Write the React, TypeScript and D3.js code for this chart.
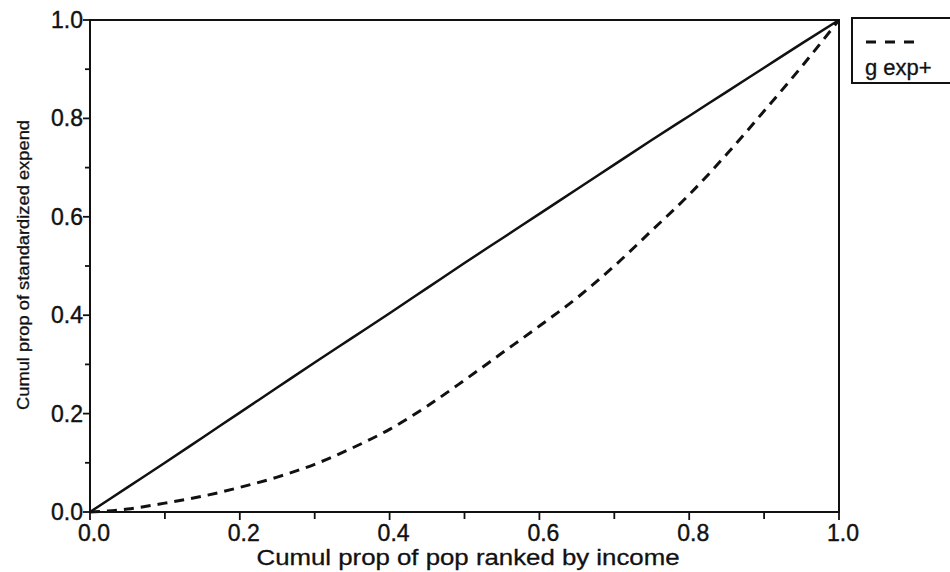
import React, { useEffect, useRef } from "react";
import * as d3 from "d3";

// population share (x) and cumulative share of expenditure (y)
const popShare = [0, 0.05, 0.1, 0.15, 0.2, 0.25, 0.3, 0.35, 0.4, 0.45, 0.5, 0.55, 0.6, 0.65, 0.7, 0.75, 0.8, 0.85, 0.9, 0.95, 1];
const standardizedExp = [0, 0.05, 0.1, 0.151, 0.202, 0.253, 0.304, 0.354, 0.404, 0.455, 0.506, 0.556, 0.606, 0.656, 0.706, 0.756, 0.805, 0.854, 0.903, 0.952, 1];
const actualExp = [0, 0.006, 0.018, 0.032, 0.05, 0.071, 0.097, 0.13, 0.168, 0.215, 0.268, 0.323, 0.378, 0.435, 0.5, 0.572, 0.645, 0.727, 0.815, 0.905, 1];

const majorTicks = [0, 0.2, 0.4, 0.6, 0.8, 1.0];
const minorTicks = [0.1, 0.3, 0.5, 0.7, 0.9];
const legendLabel = "g exp+";
const xTitle = "Cumul prop of pop ranked by income";
const yTitle = "Cumul prop of standardized expend";

const W = 950;
const H = 572;
const FONT = "'Liberation Sans', Arial, Helvetica, sans-serif";

const App = () => {
  const ref = useRef<SVGSVGElement>(null);

  useEffect(() => {
    const svg = d3.select(ref.current);
    svg.selectAll("*").remove();

    const x = d3.scaleLinear().domain([0, 1]).range([90, 839]);
    const y = d3.scaleLinear().domain([0, 1]).range([512, 20]);

    // frame
    svg
      .append("rect")
      .attr("x", x(0))
      .attr("y", y(1))
      .attr("width", x(1) - x(0))
      .attr("height", y(0) - y(1))
      .attr("fill", "none")
      .attr("stroke", "#111")
      .attr("stroke-width", 2);

    // ticks, outward
    const g = svg.append("g").attr("stroke", "#111").attr("stroke-width", 1.8);
    g.selectAll(".xmaj")
      .data(majorTicks)
      .join("line")
      .attr("x1", (d) => x(d))
      .attr("x2", (d) => x(d))
      .attr("y1", y(0))
      .attr("y2", y(0) + 8);
    g.selectAll(".xmin")
      .data(minorTicks)
      .join("line")
      .attr("x1", (d) => x(d))
      .attr("x2", (d) => x(d))
      .attr("y1", y(0))
      .attr("y2", y(0) + 7);
    g.selectAll(".ymaj")
      .data(majorTicks)
      .join("line")
      .attr("x1", x(0) - 7)
      .attr("x2", x(0))
      .attr("y1", (d) => y(d))
      .attr("y2", (d) => y(d));
    g.selectAll(".ymin")
      .data(minorTicks)
      .join("line")
      .attr("x1", x(0) - 5)
      .attr("x2", x(0))
      .attr("y1", (d) => y(d))
      .attr("y2", (d) => y(d));

    const fmt = d3.format(".1f");

    // tick labels
    svg
      .append("g")
      .attr("font-family", FONT)
      .attr("font-size", 23)
      .attr("fill", "#111")
      .attr("stroke", "#111")
      .attr("stroke-width", 0.4)
      .attr("text-anchor", "middle")
      .selectAll("text")
      .data(majorTicks)
      .join("text")
      .attr("x", (d) => x(d) + 4)
      .attr("y", 541)
      .text((d) => fmt(d));

    svg
      .append("g")
      .attr("font-family", FONT)
      .attr("font-size", 23)
      .attr("fill", "#111")
      .attr("stroke", "#111")
      .attr("stroke-width", 0.4)
      .attr("text-anchor", "end")
      .selectAll("text")
      .data(majorTicks)
      .join("text")
      .attr("x", 83)
      .attr("y", (d) => y(d) + 8)
      .text((d) => fmt(d));

    // axis titles
    svg
      .append("text")
      .attr("x", 468)
      .attr("y", 565)
      .attr("font-family", FONT)
      .attr("font-size", 22)
      .attr("text-anchor", "middle")
      .attr("textLength", 423)
      .attr("lengthAdjust", "spacingAndGlyphs")
      .attr("fill", "#111")
      .attr("stroke", "#111")
      .attr("stroke-width", 0.3)
      .text(xTitle);

    svg
      .append("text")
      .attr("transform", `translate(29,265) rotate(-90)`)
      .attr("font-family", FONT)
      .attr("font-size", 17)
      .attr("text-anchor", "middle")
      .attr("textLength", 290)
      .attr("lengthAdjust", "spacingAndGlyphs")
      .attr("fill", "#111")
      .attr("stroke", "#111")
      .attr("stroke-width", 0.3)
      .text(yTitle);

    // curves
    const line = d3
      .line<number>()
      .x((d, i) => x(popShare[i]))
      .y((d) => y(d))
      .curve(d3.curveMonotoneX);

    svg
      .append("path")
      .datum(standardizedExp)
      .attr("d", line)
      .attr("fill", "none")
      .attr("stroke", "#111")
      .attr("stroke-width", 2.5);

    svg
      .append("path")
      .datum(actualExp)
      .attr("d", line)
      .attr("fill", "none")
      .attr("stroke", "#111")
      .attr("stroke-width", 3)
      .attr("stroke-dasharray", "10,7");

    // legend (cut off at the right edge)
    const lg = svg.append("g");
    lg.append("rect")
      .attr("x", 852)
      .attr("y", 18)
      .attr("width", 130)
      .attr("height", 65)
      .attr("fill", "white")
      .attr("stroke", "#111")
      .attr("stroke-width", 2);
    lg.append("line")
      .attr("x1", 866)
      .attr("x2", 915)
      .attr("y1", 42)
      .attr("y2", 42)
      .attr("stroke", "#111")
      .attr("stroke-width", 3)
      .attr("stroke-dasharray", "10,9");
    lg.append("text")
      .attr("x", 865)
      .attr("y", 75)
      .attr("font-family", FONT)
      .attr("font-size", 22)
      .attr("fill", "#111")
      .attr("stroke", "#111")
      .attr("stroke-width", 0.3)
      .text(legendLabel);
  }, []);

  return (
    <svg
      ref={ref}
      width={W}
      height={H}
      style={{ position: "absolute", left: 0, top: 0, background: "white" }}
    />
  );
};

export default App;
